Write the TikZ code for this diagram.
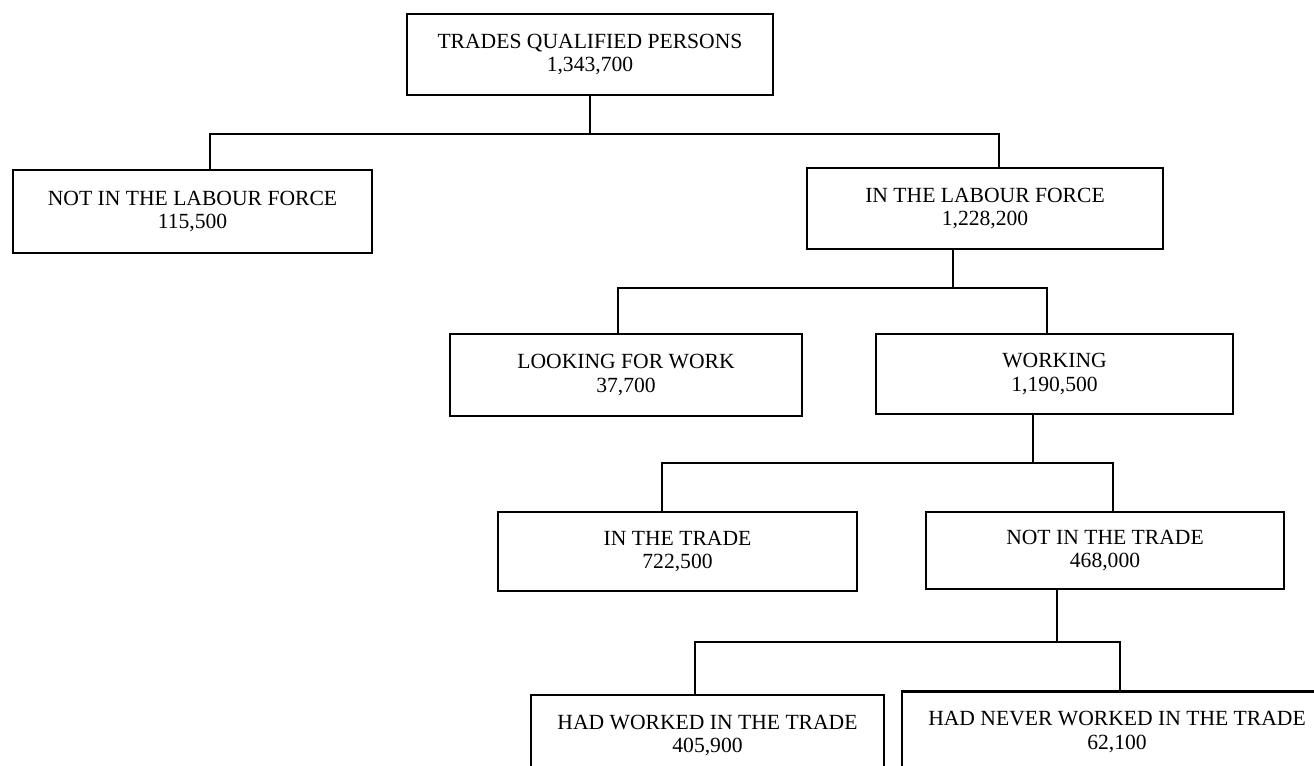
\documentclass[tikz,border=0pt]{standalone}
\usepackage{fontspec}
\setmainfont{Liberation Serif}
\begin{document}
\begin{tikzpicture}[x=0.02cm,y=-0.02cm,line width=1.3pt,
  box/.style 2 args={draw,inner sep=0pt,align=center,
    minimum width=#1cm,minimum height=#2cm,
    font=\fontsize{12.3}{13.2}\selectfont}]
\fill[white] (0,0) rectangle (1314,766);
\useasboundingbox (0,0) rectangle (1314,766);
% boxes
\node[box={7.32}{1.62}] (top)   at (590,54.5)   {TRADES QUALIFIED PERSONS\\1,343,700};
\node[box={7.18}{1.66}] (notlf) at (192.5,211.5) {NOT IN THE LABOUR FORCE\\115,500};
\node[box={7.12}{1.62}] (inlf)  at (985,208.5)  {IN THE LABOUR FORCE\\1,228,200};
\node[box={7.04}{1.64}] (look)  at (626,375)    {LOOKING FOR WORK\\37,700};
\node[box={7.14}{1.60}] (work)  at (1054.5,374) {WORKING\\1,190,500};
\node[box={7.18}{1.58}] (intr)  at (677.5,551.5) {IN THE TRADE\\722,500};
\node[box={7.16}{1.54}] (notr)  at (1105,550.5) {NOT IN THE TRADE\\468,000};
\node[box={7.06}{1.62}] (hadw)  at (707.5,735.5) {HAD WORKED IN THE TRADE\\405,900};
\node[box={8.60}{1.62}] (hadn)  at (1117,732)   {HAD NEVER WORKED IN THE TRADE\\62,100};
% bus points
\coordinate (a0) at (590,134);  \coordinate (a1) at (210,134);  \coordinate (a2) at (999,134);
\coordinate (b0) at (953,288);  \coordinate (b1) at (618,288);  \coordinate (b2) at (1047,288);
\coordinate (c0) at (1033,463); \coordinate (c1) at (662,463);  \coordinate (c2) at (1113,463);
\coordinate (d0) at (1057,642); \coordinate (d1) at (695,642);  \coordinate (d2) at (1120,642);
% connectors
\draw (top.south -| a0) -- (a0);
\draw (notlf.north -| a1) -- (a1) -- (a2) -- (inlf.north -| a2);
\draw (inlf.south -| b0) -- (b0);
\draw (look.north -| b1) -- (b1) -- (b2) -- (work.north -| b2);
\draw (work.south -| c0) -- (c0);
\draw (intr.north -| c1) -- (c1) -- (c2) -- (notr.north -| c2);
\draw (notr.south -| d0) -- (d0);
\draw (hadw.north -| d1) -- (d1) -- (d2) -- (hadn.north -| d2);
\end{tikzpicture}
\end{document}
